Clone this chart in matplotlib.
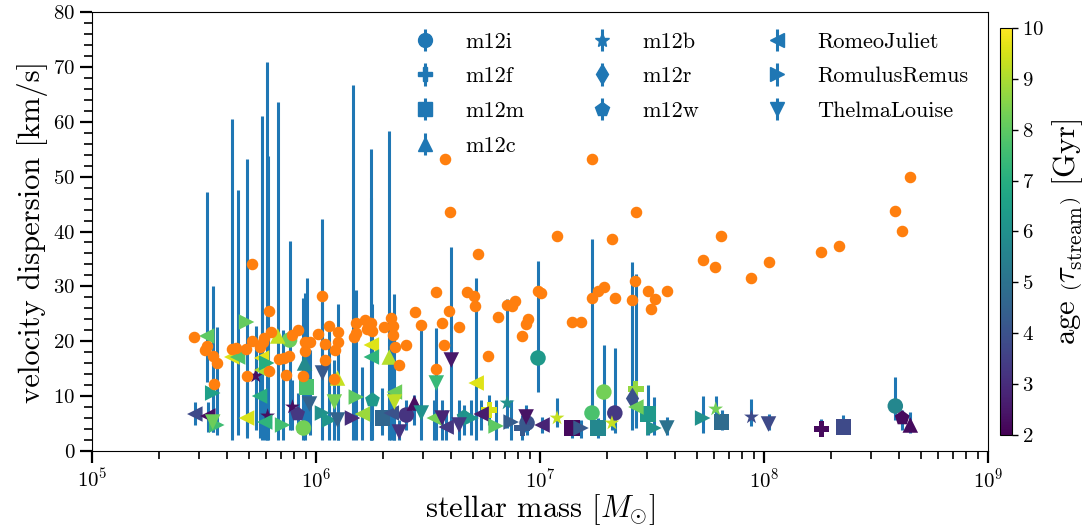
import matplotlib
matplotlib.use('Agg')
import matplotlib.pyplot as plt
import matplotlib.colors as mpc
import matplotlib.cm as mpm
import matplotlib.ticker as mticker
import numpy as np

plt.rcParams['font.family'] = 'serif'
plt.rcParams['font.serif'] = ['cmr10']
plt.rcParams['mathtext.fontset'] = 'cm'
plt.rcParams['axes.formatter.use_mathtext'] = True

# host galaxies and their marker shapes
hosts = ['m12i', 'm12f', 'm12m', 'm12c', 'm12b', 'm12r', 'm12w',
         'RomeoJuliet', 'RomulusRemus', 'ThelmaLouise']
host_markers = ['o', 'P', 's', '^', '*', 'd', 'p', '<', '>', 'v']

# simulated streams: host, log10 stellar mass, dispersion, lower/upper bar end, age
stream_host = ['RomeoJuliet', 'RomeoJuliet', 'ThelmaLouise', 'RomulusRemus', 'RomulusRemus',
               'RomeoJuliet', 'RomeoJuliet', 'RomeoJuliet', 'RomulusRemus', 'RomeoJuliet',
               'm12b', 'RomeoJuliet', 'RomulusRemus', 'RomeoJuliet', 'RomeoJuliet',
               'RomeoJuliet', 'm12b', 'm12c', 'RomulusRemus', 'm12i',
               'm12b', 'm12w', 'm12i', 'm12c', 'm12m',
               'ThelmaLouise', 'ThelmaLouise', 'RomulusRemus', 'RomulusRemus', 'm12c',
               'ThelmaLouise', 'ThelmaLouise', 'RomulusRemus', 'RomulusRemus', 'RomeoJuliet',
               'RomeoJuliet', 'RomeoJuliet', 'm12w', 'm12m', 'm12c',
               'RomeoJuliet', 'RomeoJuliet', 'ThelmaLouise', 'ThelmaLouise', 'm12i',
               'm12c', 'ThelmaLouise', 'ThelmaLouise', 'RomeoJuliet', 'ThelmaLouise',
               'RomeoJuliet', 'ThelmaLouise', 'ThelmaLouise', 'm12w', 'RomulusRemus',
               'RomeoJuliet', 'RomeoJuliet', 'm12f', 'RomulusRemus', 'm12b',
               'RomulusRemus', 'm12f', 'm12i', 'ThelmaLouise', 'm12i',
               'RomeoJuliet', 'm12b', 'm12m', 'RomulusRemus', 'm12i',
               'm12m', 'm12i', 'm12i', 'm12b', 'm12r',
               'm12f', 'RomeoJuliet', 'm12m', 'RomulusRemus', 'ThelmaLouise',
               'RomulusRemus', 'm12b', 'm12m', 'm12b', 'ThelmaLouise',
               'm12f', 'm12m', 'm12i', 'm12w', 'm12c']
stream_logm = [5.459, 5.517, 5.539, 5.557, 5.539, 5.512, 5.624, 5.650, 5.690, 5.690,
               5.731, 5.757, 5.780, 5.757, 5.748, 5.771, 5.784, 5.829, 5.851, 5.882,
               5.895, 5.918, 5.944, 5.949, 5.958, 5.971, 6.029, 6.029, 6.060, 6.096,
               6.082, 6.096, 6.163, 6.180, 6.207, 6.247, 6.247, 6.252, 6.296, 6.327,
               6.336, 6.350, 6.350, 6.372, 6.403, 6.439, 6.470, 6.537, 6.528, 6.563,
               6.581, 6.604, 6.639, 6.661, 6.693, 6.715, 6.737, 6.773, 6.804, 6.853,
               6.871, 6.920, 6.942, 6.938, 6.991, 7.009, 7.076, 7.143, 7.183, 7.232,
               7.258, 7.285, 7.334, 7.321, 7.410, 7.428, 7.428, 7.481, 7.508, 7.566,
               7.726, 7.784, 7.811, 7.944, 8.020, 8.256, 8.354, 8.586, 8.617, 8.653]
stream_sigma = [6.74, 6.38, 5.28, 4.74, 10.57, 20.96, 17.13, 17.13, 23.51, 6.01,
                13.67, 16.95, 16.04, 14.76, 10.02, 5.28, 6.38, 20.96, 4.74, 20.23,
                8.02, 6.74, 4.19, 16.04, 11.66, 8.56, 14.21, 6.92, 5.65, 13.30,
                8.93, 5.65, 6.01, 9.84, 6.74, 19.32, 17.13, 9.29, 6.01, 17.13,
                6.92, 10.75, 8.93, 3.46, 6.56, 8.75, 6.92, 12.39, 6.01, 6.01,
                4.37, 16.58, 4.74, 6.20, 6.01, 12.39, 6.74, 7.47, 4.56, 8.75,
                5.28, 4.19, 5.10, 6.20, 16.95, 4.74, 6.01, 4.19, 4.19, 6.92,
                4.19, 10.75, 6.92, 5.10, 9.66, 11.30, 8.02, 6.74, 4.19, 4.19,
                6.01, 7.65, 5.28, 6.20, 4.92, 4.01, 4.37, 8.20, 6.01, 4.74]
stream_lo = [4.74, 3.46, 3.46, 2.92, 3.46, 12.57, 2.00, 2.92, 2.92, 2.37,
             3.83, 2.00, 2.00, 3.83, 2.37, 2.00, 2.00, 2.00, 2.00, 3.83,
             3.83, 3.46, 2.00, 2.00, 3.83, 2.92, 5.65, 2.00, 2.00, 2.00,
             2.00, 2.00, 2.00, 2.00, 2.00, 2.00, 2.00, 2.00, 2.92, 2.00,
             2.00, 2.00, 2.00, 2.00, 3.83, 4.74, 2.00, 2.00, 2.00, 2.00,
             2.00, 3.83, 2.00, 2.92, 2.92, 2.00, 3.83, 4.74, 2.00, 4.19,
             2.00, 2.00, 2.92, 3.46, 10.75, 3.28, 4.37, 2.37, 2.37, 2.92,
             2.37, 3.28, 3.28, 3.83, 3.83, 4.19, 5.65, 2.92, 2.92, 2.92,
             3.28, 5.65, 3.83, 4.56, 3.83, 2.92, 3.28, 5.65, 3.83, 3.28]
stream_hi = [8.93, 8.93, 9.29, 22.6, 30.1, 47.2, 60.5, 47.6, 53.2, 14.76,
             22.8, 61.0, 70.9, 27.5, 20.2, 11.1, 53.8, 63.6, 22.05, 38.3,
             12.94, 10.57, 27.9, 28.8, 31.5, 18.4, 42.3, 38.5, 22.05, 26.8,
             16.6, 11.1, 66.7, 29.3, 15.3, 55.0, 46.1, 26.8, 11.5, 58.3,
             21.7, 28.6, 14.76, 5.65, 9.29, 10.2, 22.05, 22.4, 9.29, 9.29,
             7.47, 37.2, 9.29, 8.4, 9.29, 31.5, 9.29, 10.2, 9.29, 27.7,
             9.29, 6.56, 7.47, 8.4, 34.6, 6.2, 9.66, 5.65, 5.65, 38.6,
             6.0, 19.3, 18.8, 6.56, 34.4, 32.2, 10.2, 12.0, 9.84, 6.2,
             10.0, 10.0, 7.47, 9.48, 6.74, 5.83, 6.56, 13.5, 7.47, 7.1]
stream_age = [3.8, 2.3, 8.2, 7.5, 6.5, 8.0, 9.6, 7.8, 8.1, 9.5,
              2.3, 9.7, 7.0, 9.0, 7.0, 7.2, 2.3, 9.3, 7.6, 8.2,
              2.3, 3.3, 8.3, 5.8, 7.7, 4.5, 4.2, 6.0, 6.2, 9.3,
              8.3, 4.5, 3.0, 8.0, 8.8, 9.6, 7.2, 6.3, 4.6, 9.1,
              4.0, 8.2, 9.2, 3.2, 3.2, 2.3, 6.0, 7.4, 8.3, 2.8,
              3.3, 2.5, 3.3, 6.0, 6.2, 9.6, 2.6, 9.5, 8.0, 6.0,
              4.3, 4.2, 4.0, 2.4, 6.3, 2.8, 9.3, 2.2, 4.2, 7.7,
              5.7, 8.3, 3.3, 9.3, 4.0, 8.7, 8.2, 6.3, 6.0, 5.0,
              6.0, 8.3, 4.8, 3.8, 3.8, 2.2, 3.8, 5.7, 2.2, 2.2]

# orange points (no legend entry)
obs_logm = [6.577, 7.232, 6.599, 7.428, 7.076, 7.321, 7.806, 6.724, 7.726, 7.779,
            6.029, 6.537, 6.675, 6.706, 6.710, 6.991, 7.004, 7.423, 7.258, 7.285,
            7.232, 7.334, 7.410, 7.481, 7.512, 7.494, 7.566, 6.443, 6.470, 6.595,
            6.563, 6.639, 6.813, 6.853, 6.875, 6.889, 6.947, 6.938, 6.920, 7.143,
            7.183, 6.060, 6.100, 6.007, 5.918, 5.895, 6.180, 6.220, 6.247, 6.229,
            6.252, 6.336, 6.345, 6.305, 6.345, 6.171, 7.944, 8.020, 8.256, 8.336,
            8.586, 8.617, 8.653, 5.713, 5.788, 5.454, 5.512, 5.503, 5.539, 5.557,
            5.543, 5.624, 5.641, 5.686, 5.713, 5.748, 5.762, 5.766, 5.797, 5.949,
            5.971, 5.949, 6.038, 6.096, 6.087, 6.042, 5.833, 5.855, 5.878, 5.788,
            5.864, 5.944, 5.690, 6.082, 6.354, 6.403, 6.372, 6.537, 6.572, 6.768,
            6.180]
obs_sigma = [53.2, 53.2, 43.6, 43.6, 39.2, 38.6, 39.2, 35.9, 34.8, 33.5,
             28.2, 29.0, 29.0, 28.2, 26.4, 29.2, 28.8, 31.0, 29.2, 29.9,
             27.9, 27.9, 27.5, 29.2, 27.7, 25.9, 29.2, 25.3, 23.0, 25.5,
             23.3, 22.6, 24.4, 26.6, 26.4, 27.3, 24.1, 23.1, 21.0, 23.5,
             23.5, 22.8, 21.7, 21.3, 22.0, 21.1, 23.3, 23.9, 23.3, 22.2,
             21.9, 24.2, 22.8, 22.6, 21.1, 20.8, 31.5, 34.4, 36.3, 37.4,
             43.7, 40.1, 49.9, 34.1, 25.5, 20.8, 19.1, 18.4, 17.3, 16.0,
             12.2, 18.6, 18.8, 18.6, 20.0, 19.0, 19.9, 20.6, 21.7, 19.9,
             19.9, 18.2, 19.5, 19.9, 18.4, 16.6, 16.8, 16.9, 17.3, 14.6,
             13.8, 13.7, 13.7, 13.1, 19.0, 19.3, 15.7, 14.9, 19.3, 17.3,
             21.5]

# Set up figure
fig = plt.figure(figsize=(10.86, 5.27), dpi=100)
ax = fig.add_axes([0.0847, 0.1442, 0.8251, 0.8330])
cax = fig.add_axes([0.9208, 0.1746, 0.0111, 0.7723])

cNorm = mpc.Normalize(vmin=2, vmax=10)
cmap = plt.get_cmap('viridis')

host_arr = np.array(stream_host)
mass = 10**np.array(stream_logm)
sig = np.array(stream_sigma)
lo = np.array(stream_lo)
hi = np.array(stream_hi)
age = np.array(stream_age)

# error bars first, then coloured markers
ax.errorbar(mass, sig, yerr=[sig - lo, hi - sig], fmt='none', ecolor='C0',
            elinewidth=2.2, capsize=0, zorder=1)
for h, m in zip(hosts, host_markers):
    sel = host_arr == h
    ax.scatter(mass[sel], sig[sel], c=age[sel], cmap=cmap, norm=cNorm,
               marker=m, s=125, linewidths=0, zorder=2)
    # legend proxy
    ax.errorbar([np.nan], [np.nan], yerr=[1.0], fmt=m, color='C0', ms=10,
                elinewidth=2.2, label=h)

ax.plot(10**np.array(obs_logm), obs_sigma, 'o', color='C1', ms=7.3,
        ls='none', zorder=3)

ax.set_xscale('log')
ax.set_xlim(1e5, 1e9)
ax.set_ylim(0, 80)
ax.yaxis.set_major_locator(mticker.MultipleLocator(10))
ax.yaxis.set_minor_locator(mticker.MultipleLocator(2))
ax.tick_params(which='major', direction='out', length=8.5, width=1.6, labelsize=15)
ax.tick_params(which='minor', direction='out', length=5.5, width=1.2)
ax.set_xlabel(r'stellar mass [$M_{\odot}$]', fontsize=22, labelpad=0)
ax.set_ylabel('velocity dispersion [km/s]', fontsize=22)

ax.legend(loc='upper right', ncol=3, frameon=False, fontsize=16,
          labelspacing=0.68, columnspacing=2.5)

sm = mpm.ScalarMappable(norm=cNorm, cmap=cmap)
cb = fig.colorbar(sm, cax=cax)
cb.set_ticks(range(2, 11))
cb.ax.tick_params(labelsize=15, length=4, width=1)
cb.set_label(r'age $\left(\tau^{\,}_{\rm stream}\right)$ [Gyr]', fontsize=22)

fig.savefig('out.png', dpi=100)
